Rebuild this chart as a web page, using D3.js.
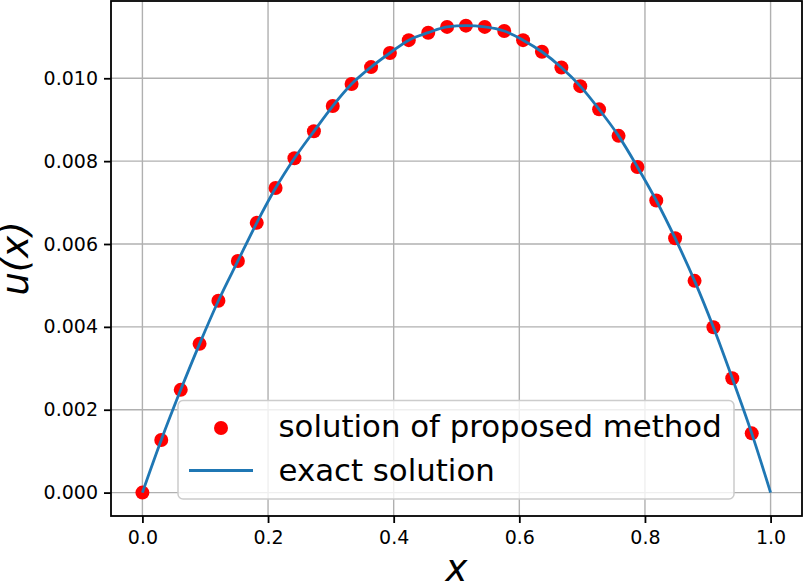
<!DOCTYPE html>
<html>
<head>
<meta charset="utf-8">
<style>
  body { margin: 0; background: #fff; }
  svg { display: block; font-family: "DejaVu Sans", sans-serif; }
  .grid line { stroke: #b0b0b0; stroke-width: 1.4px; }
  .tick-label { font-size: 19px; fill: #000; }
</style>
</head>
<body>
<script src="https://cdn.jsdelivr.net/npm/d3@7"></script>
<script>
// values
var xSolution = [0.000, 0.030, 0.061, 0.091, 0.121, 0.152, 0.182, 0.212, 0.242, 0.273, 0.303,
                 0.333, 0.364, 0.394, 0.424, 0.455, 0.485, 0.515, 0.545, 0.576, 0.606, 0.636,
                 0.667, 0.697, 0.727, 0.758, 0.788, 0.818, 0.848, 0.879, 0.909, 0.939, 0.970];
var uSolution = [0.00000, 0.00127, 0.00248, 0.00359, 0.00463, 0.00559, 0.00651, 0.00735, 0.00807,
                 0.00872, 0.00933, 0.00986, 0.01027, 0.01061, 0.01092, 0.01110, 0.01124, 0.01127,
                 0.01124, 0.01114, 0.01092, 0.01064, 0.01026, 0.00981, 0.00925, 0.00861, 0.00786,
                 0.00705, 0.00614, 0.00511, 0.00399, 0.00276, 0.00143];
var xExact = [0.000, 0.030, 0.061, 0.091, 0.121, 0.152, 0.182, 0.212, 0.242, 0.273, 0.303,
              0.333, 0.364, 0.394, 0.424, 0.455, 0.485, 0.515, 0.545, 0.576, 0.606, 0.636,
              0.667, 0.697, 0.727, 0.758, 0.788, 0.818, 0.848, 0.879, 0.909, 0.939, 0.970, 1.000];
var uExact = [0.00000, 0.00127, 0.00248, 0.00359, 0.00463, 0.00559, 0.00651, 0.00735, 0.00807,
              0.00872, 0.00933, 0.00986, 0.01027, 0.01061, 0.01092, 0.01110, 0.01124, 0.01127,
              0.01124, 0.01114, 0.01092, 0.01064, 0.01026, 0.00981, 0.00925, 0.00861, 0.00786,
              0.00705, 0.00614, 0.00511, 0.00399, 0.00276, 0.00143, 0.00000];
var xTicks = [0.0, 0.2, 0.4, 0.6, 0.8, 1.0];
var yTicks = [0.000, 0.002, 0.004, 0.006, 0.008, 0.010];
var legendLabels = ["solution of proposed method", "exact solution"];

var width = 803, height = 582;
var margin = {top: 1, right: 1, bottom: 66, left: 111};
var innerW = width - margin.left - margin.right,
    innerH = height - margin.top - margin.bottom;

var svg = d3.select("body").append("svg")
    .attr("width", width)
    .attr("height", height);

var g = svg.append("g")
    .attr("transform", "translate(" + margin.left + "," + margin.top + ")");

var x = d3.scaleLinear().domain([-0.05, 1.05]).range([0, innerW]);
var y = d3.scaleLinear().domain([-0.000565, 0.011865]).range([innerH, 0]);

// grid
g.append("g").attr("class", "grid")
  .selectAll("line").data(xTicks).enter().append("line")
    .attr("x1", function(d){ return x(d); })
    .attr("x2", function(d){ return x(d); })
    .attr("y1", 0).attr("y2", innerH);
g.append("g").attr("class", "grid")
  .selectAll("line").data(yTicks).enter().append("line")
    .attr("y1", function(d){ return y(d); })
    .attr("y2", function(d){ return y(d); })
    .attr("x1", 0).attr("x2", innerW);

// axes
var xAxis = g.append("g")
    .attr("transform", "translate(0," + innerH + ")")
    .call(d3.axisBottom(x).tickValues(xTicks).tickFormat(d3.format(".1f")).tickSize(7).tickPadding(8));
var yAxis = g.append("g")
    .call(d3.axisLeft(y).tickValues(yTicks).tickFormat(d3.format(".3f")).tickSize(7).tickPadding(6));
[xAxis, yAxis].forEach(function(a){
  a.select(".domain").remove();
  a.selectAll(".tick line").attr("stroke", "#000").attr("stroke-width", 1.8);
  a.selectAll(".tick text").attr("class", "tick-label")
    .style("font-family", "DejaVu Sans, sans-serif");
});

// points
g.append("g").selectAll("circle")
    .data(xSolution).enter().append("circle")
    .attr("cx", function(d){ return x(d); })
    .attr("cy", function(d, i){ return y(uSolution[i]); })
    .attr("r", 7)
    .attr("fill", "#ff0000");

// exact curve
var line = d3.line()
    .x(function(d){ return x(d); })
    .y(function(d, i){ return y(uExact[i]); })
    .curve(d3.curveMonotoneX);
g.append("path")
    .datum(xExact)
    .attr("d", line)
    .attr("fill", "none")
    .attr("stroke", "#1f77b4")
    .attr("stroke-width", 2.8);

// frame
g.append("rect")
    .attr("width", innerW).attr("height", innerH)
    .attr("fill", "none").attr("stroke", "#000").attr("stroke-width", 1.8);

// legend
var leg = svg.append("g");
leg.append("rect")
    .attr("x", 178).attr("y", 400.5)
    .attr("width", 556).attr("height", 98.5)
    .attr("rx", 5)
    .attr("fill", "#fff").attr("fill-opacity", 0.8)
    .attr("stroke", "#cccccc").attr("stroke-width", 1.5);
leg.append("circle")
    .attr("cx", 221).attr("cy", 428).attr("r", 7).attr("fill", "#ff0000");
leg.append("line")
    .attr("x1", 189).attr("x2", 253).attr("y1", 470.5).attr("y2", 470.5)
    .attr("stroke", "#1f77b4").attr("stroke-width", 2.8);
leg.selectAll("text").data(legendLabels).enter().append("text")
    .attr("x", 278.5)
    .attr("y", function(d, i){ return 437 + i * 44; })
    .style("font-size", "30.8px")
    .text(function(d){ return d; });

// axis labels
svg.append("text")
    .attr("x", margin.left + innerW / 2)
    .attr("y", 581)
    .attr("text-anchor", "middle")
    .style("font-size", "37px").style("font-style", "italic")
    .text("x");
svg.append("text")
    .attr("transform", "translate(28," + (margin.top + innerH / 2) + ") rotate(-90)")
    .attr("text-anchor", "middle")
    .style("font-size", "37px").style("font-style", "italic")
    .text("u(x)");
</script>
</body>
</html>
